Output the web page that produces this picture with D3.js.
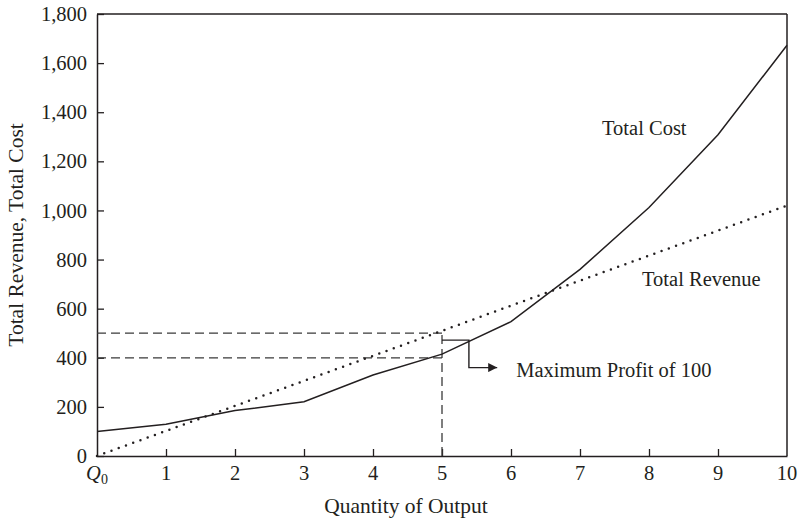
<!DOCTYPE html>
<html>
<head>
<meta charset="utf-8">
<script src="https://cdn.jsdelivr.net/npm/d3@7"></script>
<style>
  html, body { margin: 0; padding: 0; background: #fff; }
  svg text { font-family: "Liberation Serif", "DejaVu Serif", serif; fill: #231f20; }
</style>
</head>
<body>
<svg id="chart" width="798" height="520"></svg>
<script>
// ---- data ----
const costQuantity = [0, 1, 2, 3, 4, 5, 6, 7, 8, 9, 10];
const totalCost = [100, 129, 185, 221, 330, 415, 547, 760, 1012, 1308, 1673];
const revenueQuantity = [0, 10];
const totalRevenue = [0, 1020];
const xTickValues = [0, 1, 2, 3, 4, 5, 6, 7, 8, 9, 10];
const xTickLabels = ["Q0", "1", "2", "3", "4", "5", "6", "7", "8", "9", "10"];
const yTickValues = [0, 200, 400, 600, 800, 1000, 1200, 1400, 1600, 1800];
const maxProfitQuantity = 5;
const revenueAtMax = 500;
const costAtMax = 400;
const annotationText = "Maximum Profit of 100";
// bracket for annotation: [quantity, value] anchor points
const bracketQ = [5, 5.39, 5.39, 5.8];
const bracketV = [472, 472, 360, 360];

// ---- layout ----
const margin = { left: 97, right: 11, top: 14, bottom: 64 };
const W = 798, H = 520;
const ink = "#231f20";
const fs = 20.5;
const svg = d3.select("#chart");

const x = d3.scaleLinear().domain([0, 10]).range([margin.left, W - margin.right]);
const y = d3.scaleLinear().domain([0, 1800]).range([H - margin.bottom, margin.top]);

// frame (top & right)
svg.append("line").attr("x1", x(0)).attr("x2", x(10)).attr("y1", y(1800)).attr("y2", y(1800))
  .attr("stroke", ink).attr("stroke-width", 1.5);
svg.append("line").attr("x1", x(10)).attr("x2", x(10)).attr("y1", y(1800)).attr("y2", y(0))
  .attr("stroke", ink).attr("stroke-width", 1.5);

// y axis
const yAxis = svg.append("g").attr("transform", `translate(${x(0)},0)`)
  .call(d3.axisLeft(y).tickValues(yTickValues).tickFormat(d3.format(",")).tickSizeInner(-7).tickSizeOuter(0).tickPadding(10));
yAxis.select(".domain").attr("stroke", ink).attr("stroke-width", 1.5);
yAxis.selectAll(".tick line").attr("stroke", ink).attr("stroke-width", 1.3);
yAxis.selectAll(".tick text").attr("font-size", fs).attr("fill", ink)
  .attr("font-family", "Liberation Serif, serif");

// x axis
const xAxis = svg.append("g").attr("transform", `translate(0,${y(0)})`)
  .call(d3.axisBottom(x).tickValues(xTickValues).tickFormat("").tickSizeInner(-7).tickSizeOuter(0));
xAxis.select(".domain").attr("stroke", ink).attr("stroke-width", 1.5);
xAxis.selectAll(".tick line").attr("stroke", ink).attr("stroke-width", 1.3);
xAxis.selectAll(".tick line").filter(d => d === 0 || d === 10).remove();

const xl = svg.append("g");
xTickValues.forEach((v, i) => {
  const lab = xTickLabels[i];
  const t = xl.append("text").attr("x", x(v)).attr("y", y(0) + 24).attr("text-anchor", "middle")
    .attr("font-size", fs);
  if (lab === "Q0") {
    t.append("tspan").attr("font-style", "italic").text("Q");
    t.append("tspan").attr("font-size", 14).attr("dy", 4).text("0");
  } else {
    t.text(lab);
  }
});

// axis titles
svg.append("text").attr("x", 406).attr("y", 513).attr("text-anchor", "middle")
  .attr("font-size", 21.5).text("Quantity of Output");
svg.append("text").attr("transform", `translate(23,235) rotate(-90)`).attr("text-anchor", "middle")
  .attr("font-size", 21.5).text("Total Revenue, Total Cost");

// dashed guides
const dash = "9,5";
const guides = [
  [[0, revenueAtMax], [maxProfitQuantity, revenueAtMax]],
  [[0, costAtMax], [maxProfitQuantity, costAtMax]],
  [[maxProfitQuantity, 0], [maxProfitQuantity, revenueAtMax]]
];
guides.forEach(g => {
  svg.append("line")
    .attr("x1", x(g[0][0])).attr("y1", y(g[0][1]))
    .attr("x2", x(g[1][0])).attr("y2", y(g[1][1]))
    .attr("stroke", "#3a3a3a").attr("stroke-width", 1.3).attr("stroke-dasharray", dash);
});

// total cost line
const line = d3.line().x(d => x(d[0])).y(d => y(d[1]));
svg.append("path").datum(costQuantity.map((q, i) => [q, totalCost[i]]))
  .attr("d", line).attr("fill", "none").attr("stroke", ink).attr("stroke-width", 1.5);

// total revenue dotted line
svg.append("path").datum(revenueQuantity.map((q, i) => [q, totalRevenue[i]]))
  .attr("d", line).attr("fill", "none").attr("stroke", ink).attr("stroke-width", 2.5)
  .attr("stroke-linecap", "round").attr("stroke-dasharray", "0,7.7");

// annotation bracket + arrow
svg.append("defs").append("marker").attr("id", "arrow")
  .attr("viewBox", "0 0 10 10").attr("refX", 10).attr("refY", 5)
  .attr("markerWidth", 12).attr("markerHeight", 9).attr("markerUnits", "userSpaceOnUse")
  .attr("orient", "auto")
  .append("path").attr("d", "M0,0 L10,5 L0,10 Z").attr("fill", ink);
svg.append("path").datum(bracketQ.map((q, i) => [q, bracketV[i]]))
  .attr("d", line).attr("fill", "none").attr("stroke", ink).attr("stroke-width", 1.4)
  .attr("marker-end", "url(#arrow)");
svg.append("text").attr("x", x(bracketQ[3]) + 19).attr("y", y(bracketV[3]) + 9)
  .attr("font-size", fs).text(annotationText);

// series labels
svg.append("text").attr("x", 602).attr("y", 135).attr("font-size", fs).text("Total Cost");
svg.append("text").attr("x", 642).attr("y", 286).attr("font-size", fs).text("Total Revenue");
</script>
</body>
</html>
